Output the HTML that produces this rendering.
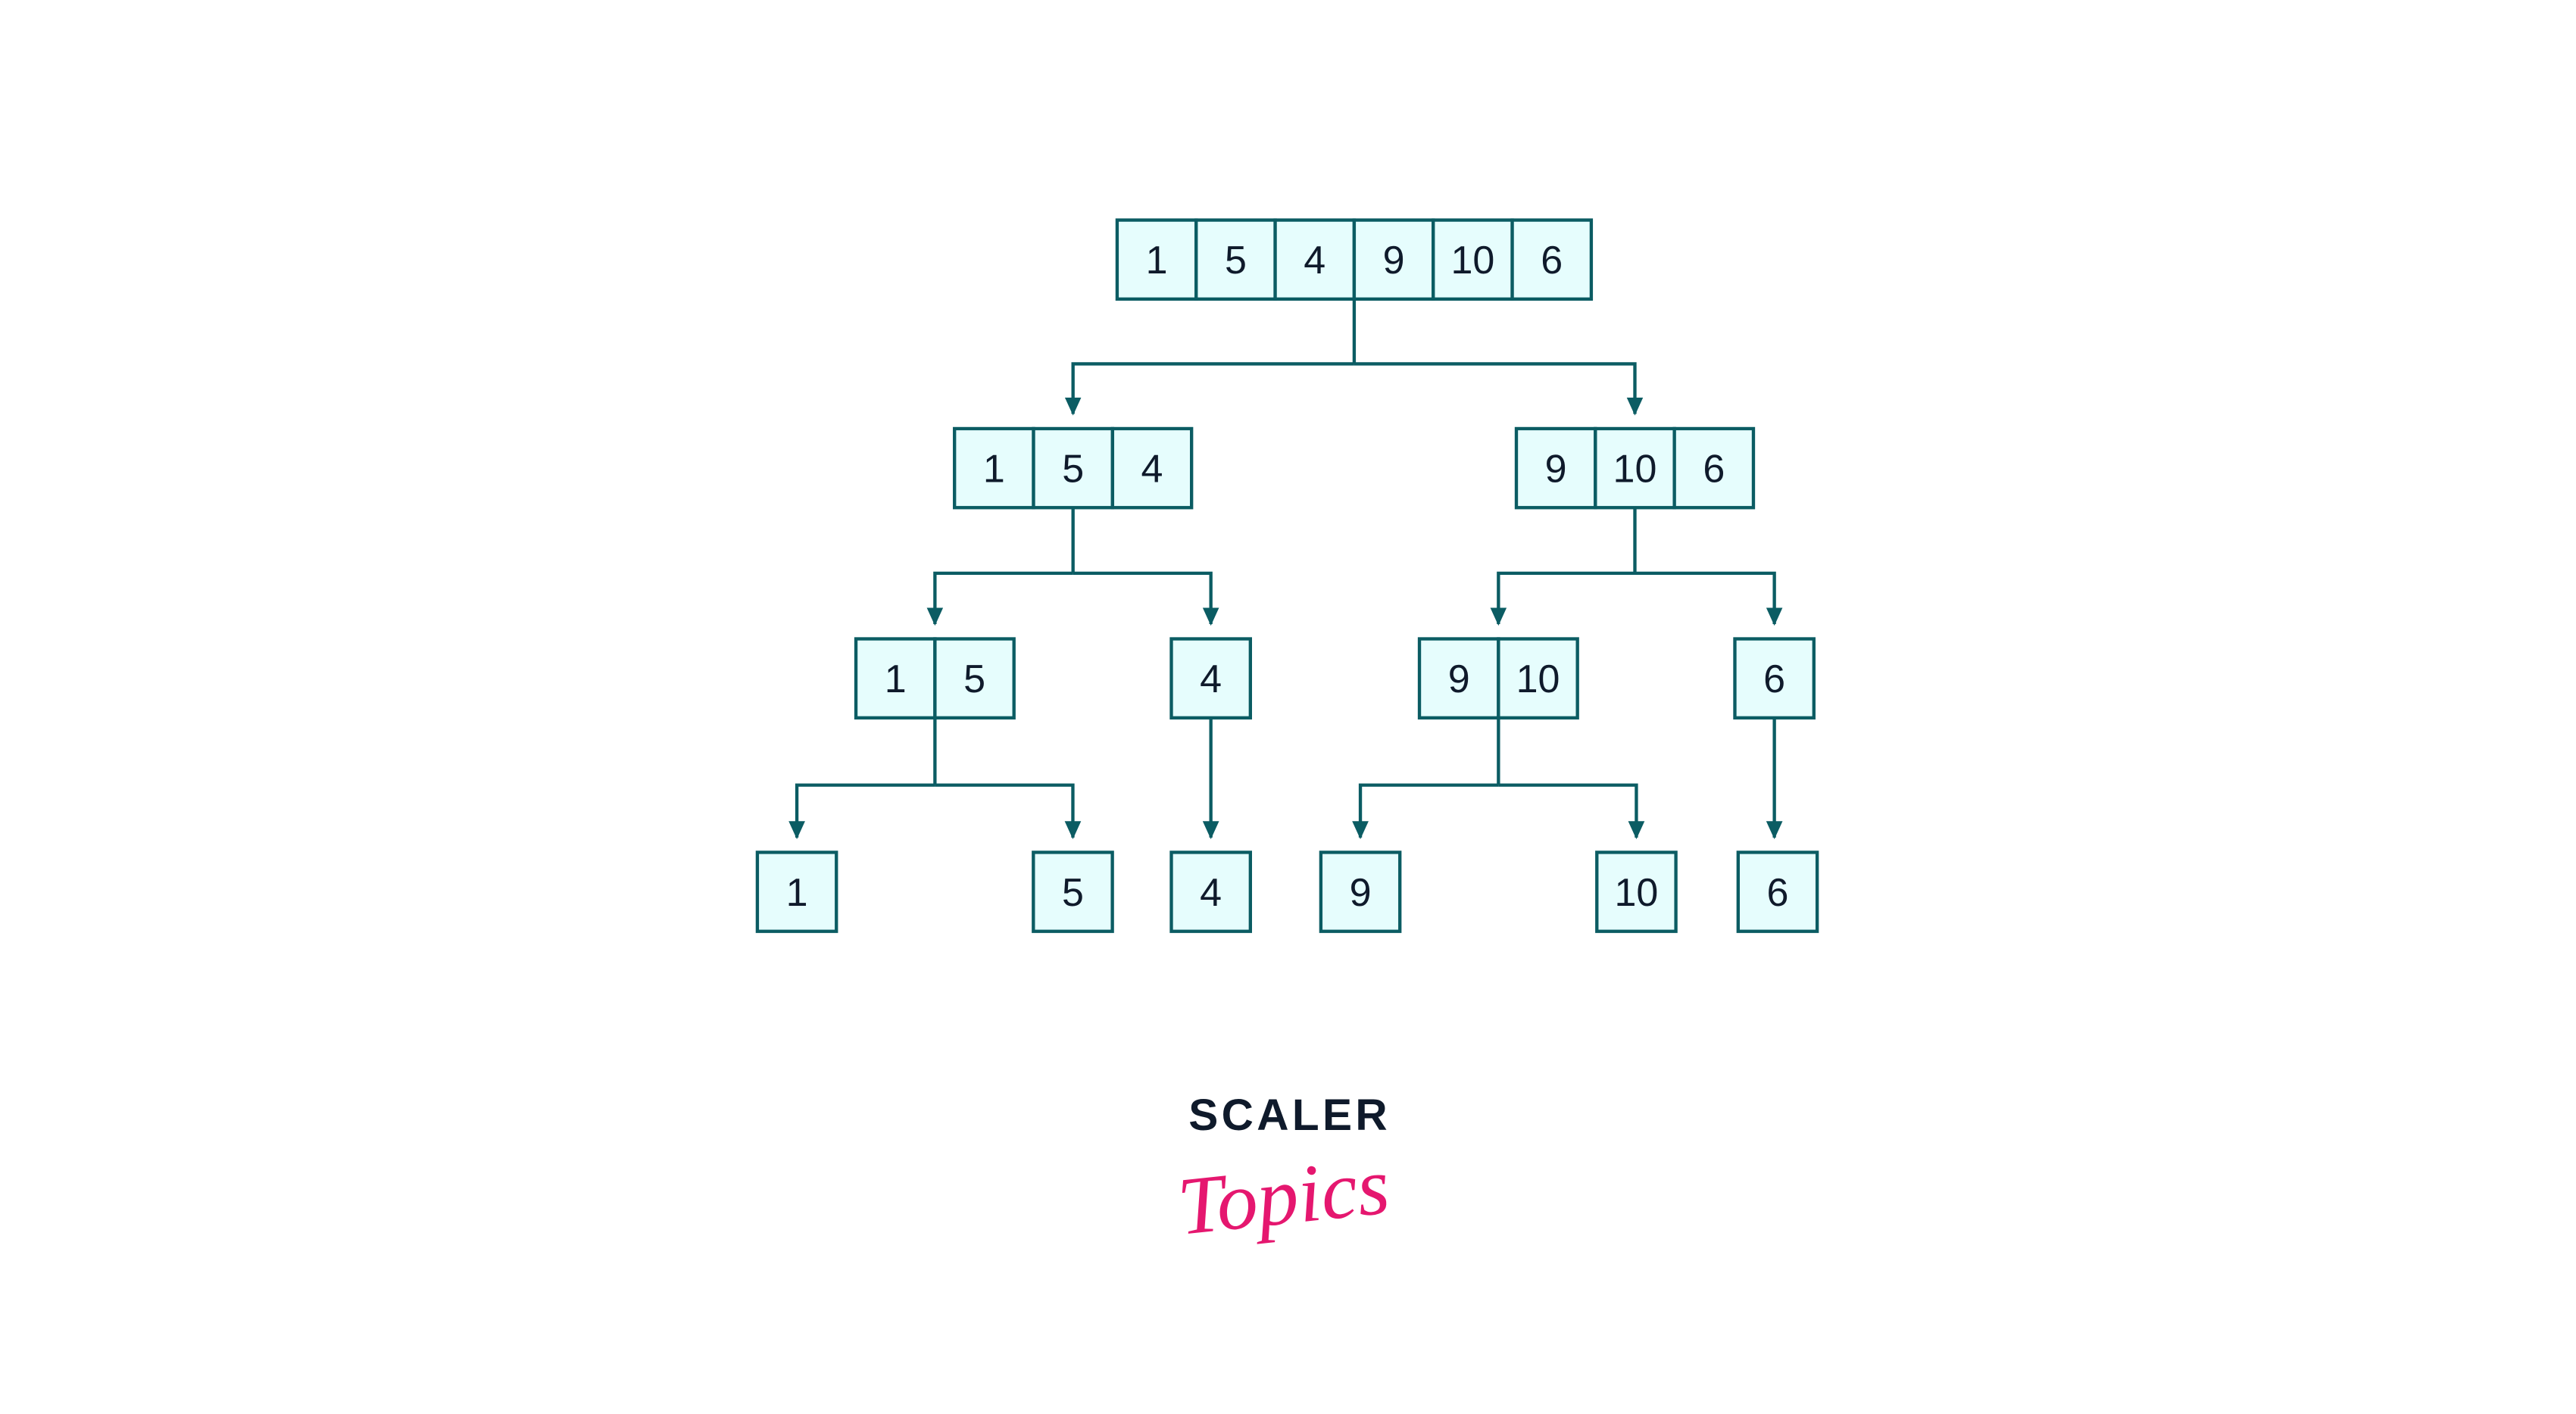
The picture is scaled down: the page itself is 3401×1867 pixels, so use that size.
<!DOCTYPE html>
<html><head><meta charset="utf-8"><style>
html,body{margin:0;padding:0;background:#fff;width:3401px;height:1867px;overflow:hidden}
svg{display:block}
</style></head><body>
<svg id="chart" width="3401" height="1867" viewBox="0 0 1568 861" preserveAspectRatio="none" xmlns="http://www.w3.org/2000/svg">
<defs><marker id="arr" markerWidth="10" markerHeight="11" refX="5" refY="10" orient="0" markerUnits="userSpaceOnUse"><path d="M0,0 L10,0 L5,11 Z" fill="#0b5c63"/></marker></defs>
<g id="links"></g>
<g id="nodes"></g>
<g>
<text x="785" y="688" text-anchor="middle" font-family="Liberation Sans, sans-serif" font-weight="bold" font-size="27" letter-spacing="2" fill="#0f1a2b">SCALER</text>
<text x="782" y="745" text-anchor="middle" font-family="Liberation Serif, serif" font-style="italic" font-size="50" fill="#e5176f" transform="rotate(-6 782 735)">Topics</text>
</g>
</svg>
<script>
const nodeValues = [
  [1,5,4,9,10,6],
  [1,5,4],[9,10,6],
  [1,5],[4],[9,10],[6],
  [1],[5],[4],[9],[10],[6]
];
const nodeLevel = [0,1,1,2,2,2,2,3,3,3,3,3,3];
const nodeLeft = [680,581,923,521,713,864,1056,461,629,713,804,972,1058];
const nodeParent = [-1,0,0,1,1,2,2,3,3,4,5,5,6];
const levelTop = [134,261,389,519];
const CELL = 48.1;
const NS = 'http://www.w3.org/2000/svg';
const nodesG = document.getElementById('nodes');
const linksG = document.getElementById('links');
function mk(tag, attrs, parent){const e=document.createElementNS(NS,tag);for(const k in attrs)e.setAttribute(k,attrs[k]);parent.appendChild(e);return e;}
const centers = [];
nodeValues.forEach((vals,i)=>{
  const x0=nodeLeft[i], y0=levelTop[nodeLevel[i]];
  centers.push({x:x0+vals.length*CELL/2, top:y0, bot:y0+CELL});
  const g=mk('g',{},nodesG);
  
  
  vals.forEach((v,j)=>{
    const r=mk('rect',{x:x0+j*CELL,y:y0,width:CELL,height:CELL,fill:'#e6fdfd',stroke:'#0b5c63','stroke-width':2},g);
    
    
    const t=mk('text',{x:x0+j*CELL+CELL/2,y:y0+CELL/2+8.5,'text-anchor':'middle','font-family':'Liberation Sans, sans-serif','font-size':24,fill:'#0f1a2b'},g);
    
    
    t.textContent=v;
  });
});
nodeValues.forEach((vals,i)=>{
  const kids=[];nodeParent.forEach((p,k)=>{if(p===i)kids.push(k);});
  if(!kids.length)return;
  const p=centers[i];
  const childTop=levelTop[nodeLevel[i]+1];
  const midY=p.bot+(childTop-p.bot)*0.5;
  if(kids.length===1){
    const l=mk('line',{x1:p.x,y1:p.bot,x2:p.x,y2:childTop-9,stroke:'#0b5c63','stroke-width':2,'marker-end':'url(#arr)'},linksG);
    
    
    return;
  }
  const l=mk('path',{d:`M${p.x},${p.bot} V${midY}`,stroke:'#0b5c63','stroke-width':2,fill:'none'},linksG);
  
  
  kids.forEach(k=>{
    const c=centers[k];
    const a=mk('path',{d:`M${p.x},${midY} H${c.x} V${childTop-9}`,stroke:'#0b5c63','stroke-width':2,fill:'none','marker-end':'url(#arr)'},linksG);
    
    
  });
});
</script>
</body></html>
